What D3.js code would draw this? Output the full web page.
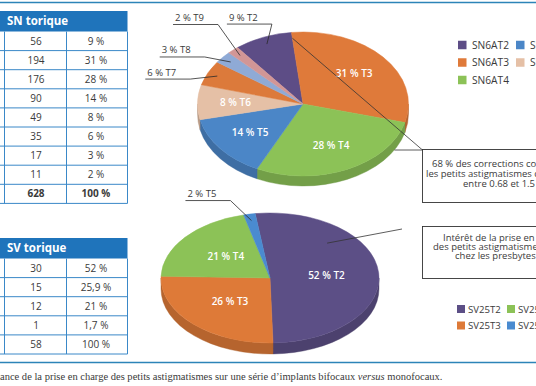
<!DOCTYPE html>
<html><head><meta charset="utf-8">
<script src="https://cdn.jsdelivr.net/npm/d3@7/dist/d3.min.js"></script>
<style>body{margin:0;background:#fff}svg{display:block}</style>
</head><body><svg id="c" width="536" height="386"></svg>
<script>
// ---------- DATA ----------
const snCategories = ["T2","T3","T4","T5","T6","T7","T8","T9"];
const snCounts = [56,194,176,90,49,35,17,11];
const snPercent = ["9 %","31 %","28 %","14 %","8 %","6 %","3 %","2 %"];
const snTotal = 628;
const svCategories = ["T2","T3","T4","T5"];
const svCounts = [30,15,12,1];
const svPercent = ["52 %","25,9 %","21 %","1,7 %"];
const svTotal = 58;
const totalPercent = "100 %";
const snLegendPrefix = "SN6A";
const svLegendPrefix = "SV25";
const callout1 = ["68 % des corrections concernent","les petits astigmatismes compris","entre 0.68 et 1.5 D"];
const callout2 = ["Intérêt de la prise en charge","des petits astigmatismes","chez les presbytes"];
const caption = ["Importance de la prise en charge des petits astigmatismes sur une série d’implants bifocaux ", "versus", " monofocaux."];

// ---------- STYLE ----------
const W = 536, H = 386;
const SANS = "'Open Sans', 'Noto Sans', sans-serif";
const SERIF = "'Liberation Serif', 'DejaVu Serif', serif";
const TEXT = "#3a3a3a";
const snColors = ["#5d4d86","#df7a3a","#8cc257","#4b86c7","#e5c0a6","#dc7a3b","#8faad6","#d29696"];
const svColors = ["#5c4f86","#de7a38","#8cc257","#4a8bd0"];

const svg = d3.select("#c");

// frame lines
svg.append("line").attr("x1",0).attr("x2",W).attr("y1",2.5).attr("y2",2.5)
  .attr("stroke","#2c84b8").attr("stroke-width",1.6);
svg.append("line").attr("x1",0).attr("x2",W).attr("y1",362.5).attr("y2",362.5)
  .attr("stroke","#2c84b8").attr("stroke-width",1.6);

// ---------- TABLES ----------
function drawTable(y0, title, counts, pcts, total, boldTotal){
  const g = svg.append("g");
  const headH = 20.5, rowH = 19.1;
  const rows = counts.map((c,i)=>({v:String(c), p:pcts[i], b:false}))
    .concat([{v:String(total), p:totalPercent, b:boldTotal}]);
  const y = d3.scaleBand().domain(d3.range(rows.length))
    .range([y0+headH, y0+headH+rowH*rows.length]);
  const x = d3.scaleOrdinal().domain(["left","c1","c2"]).range([4,66,127]);
  const line = "#3a88c8";
  g.append("rect").attr("x",0).attr("y",y0).attr("width",127.5).attr("height",headH).attr("fill","#1f74bb");
  g.append("text").attr("x",7).attr("y",y0+headH/2+4).attr("fill","#fff")
    .attr("font-family",SANS).attr("font-weight",700).attr("font-size",11.5).text(title);
  const yEnd = y0+headH+rowH*rows.length;
  rows.forEach((r,i)=>{
    g.append("line").attr("x1",0).attr("x2",127.5).attr("y1",y(i)+y.bandwidth()).attr("y2",y(i)+y.bandwidth())
      .attr("stroke",line).attr("stroke-width",1);
    const cy = y(i)+y.bandwidth()/2+3.5;
    g.append("text").attr("x",36).attr("y",cy).attr("text-anchor","middle").attr("fill",TEXT)
      .attr("font-family",SANS).attr("font-size",10).attr("font-weight",r.b?700:400).text(r.v);
    g.append("text").attr("x",96).attr("y",cy).attr("text-anchor","middle").attr("fill",TEXT)
      .attr("font-family",SANS).attr("font-size",10).attr("font-weight",r.b?700:400).text(r.p);
  });
  x.domain().forEach(k=>{
    const xx = x(k);
    g.append("line").attr("x1",xx+0.5).attr("x2",xx+0.5).attr("y1",y0+headH).attr("y2",yEnd)
      .attr("stroke",line).attr("stroke-width",1);
  });
}
drawTable(11, "SN torique", snCounts, snPercent, snTotal, true);
drawTable(238, "SV torique", svCounts, svPercent, svTotal, false);

// ---------- 3D PIES ----------
function pie3d(cfg){
  const {cats, counts, total, colors, cx, cy, rx, ry, depth, startDeg, labelK, outside} = cfg;
  const g = svg.append("g");
  const color = d3.scaleOrdinal().domain(cats).range(colors);
  const a0 = startDeg*Math.PI/180;
  const pie = d3.pie().sort(null).value(d=>d.v).startAngle(a0).endAngle(a0+2*Math.PI);
  const arcs = pie(cats.map((c,i)=>({c, v:counts[i]})));
  const P = (a,k=1)=>[cx+rx*k*Math.sin(a), cy-ry*k*Math.cos(a)];
  arcs.forEach(a=>{
    const s0 = Math.max(a.startAngle, Math.PI/2), s1 = Math.min(a.endAngle, 3*Math.PI/2);
    if (s1 <= s0) return;
    const p0 = P(s0), p1 = P(s1), lg = (s1-s0)>Math.PI?1:0;
    g.append("path").attr("d",
      `M${p0[0]},${p0[1]}A${rx},${ry} 0 ${lg} 1 ${p1[0]},${p1[1]}L${p1[0]},${p1[1]+depth}A${rx},${ry} 0 ${lg} 0 ${p0[0]},${p0[1]+depth}Z`)
      .attr("fill", d3.color(color(a.data.c)).darker(0.55))
      .attr("stroke", d3.color(color(a.data.c)).darker(0.7)).attr("stroke-width",0.4);
  });
  arcs.forEach(a=>{
    const p0 = P(a.startAngle), p1 = P(a.endAngle), lg = (a.endAngle-a.startAngle)>Math.PI?1:0;
    g.append("path").attr("d", `M${cx},${cy}L${p0[0]},${p0[1]}A${rx},${ry} 0 ${lg} 1 ${p1[0]},${p1[1]}Z`)
      .attr("fill", color(a.data.c)).attr("stroke", color(a.data.c)).attr("stroke-width",0.5);
  });
  arcs.forEach(a=>{
    const pct = Math.round(a.data.v/total*100) + " % " + a.data.c;
    const mid = (a.startAngle+a.endAngle)/2;
    if (outside[a.data.c]){
      const o = outside[a.data.c];
      const an = P(mid, 0.9);
      const el = [an[0]+o[0], an[1]+o[1]];
      const len = 45;
      g.append("path").attr("d",`M${an[0]},${an[1]}L${el[0]},${el[1]}L${el[0]-len},${el[1]}`)
        .attr("fill","none").attr("stroke","#2a2a2a").attr("stroke-width",0.8);
      g.append("text").attr("x",el[0]-len+2).attr("y",el[1]-3.5).attr("fill",TEXT)
        .attr("font-family",SANS).attr("font-size",9.5).text(pct);
    } else {
      const p = P(mid, labelK);
      g.append("text").attr("x",p[0]).attr("y",p[1]+3.5).attr("text-anchor","middle").attr("fill","#fff")
        .attr("font-family",SANS).attr("font-size",10).attr("font-weight",600).text(pct);
    }
  });
  return {arcs, P, color};
}

const topPie = pie3d({cats:snCategories, counts:snCounts, total:snTotal, colors:snColors,
  cx:303, cy:104, rx:105.5, ry:72, depth:10, startDeg:-38.4, labelK:0.64,
  outside:{T2:[5,-20], T9:[-22,-31], T8:[-26,-5], T7:[-27,3]}});
const botPie = pie3d({cats:svCategories, counts:svCounts, total:svTotal, colors:svColors,
  cx:270, cy:278, rx:109, ry:65, depth:11, startDeg:-7.8, labelK:0.52,
  outside:{T5:[-21,-20]}});

// ---------- CALLOUTS ----------
function box(y0, h, lines, xs, ys){
  svg.append("rect").attr("x",422.5).attr("y",y0+0.5).attr("width",200).attr("height",h)
    .attr("fill","#fff").attr("stroke","#333").attr("stroke-width",0.9);
  lines.forEach((t,i)=>svg.append("text").attr("x",xs[i]).attr("y",ys[i]).attr("fill",TEXT)
    .attr("font-family",SANS).attr("font-size",9.5).text(t));
}
{
  const a3 = topPie.arcs[1];
  const s = topPie.P(a3.startAngle, 0.92);
  const e = topPie.P(2*Math.PI/3, 1); e[1] += 10;
  svg.append("path").attr("d",`M${s[0]},${s[1]}L422.5,150L${e[0]},${e[1]}`)
    .attr("fill","none").attr("stroke","#333").attr("stroke-width",0.8);
}
box(149, 53, callout1, [432,426,463], [167,177,187]);
{
  const a2 = botPie.arcs[0];
  const s = botPie.P(a2.startAngle + 0.28*(a2.endAngle-a2.startAngle), 0.75);
  svg.append("line").attr("x1",s[0]).attr("y1",s[1]).attr("x2",402).attr("y2",229)
    .attr("stroke","#333").attr("stroke-width",0.8);
}
box(226, 52, callout2, [443,433,455], [240.5,249.5,258.5]);

// ---------- LEGENDS ----------
function legend(cats, colors, prefix, pos, sq, tdx, fs){
  cats.forEach((c,i)=>{
    const [x,y] = pos(i);
    svg.append("rect").attr("x",x).attr("y",y-sq/2).attr("width",sq).attr("height",sq).attr("fill",colors[i]);
    svg.append("text").attr("x",x+tdx).attr("y",y+3.6).attr("fill",TEXT)
      .attr("font-family",SANS).attr("font-size",fs).text(prefix+c);
  });
}
legend(snCategories, snColors, snLegendPrefix,
  i=>{const col = i<3?0:(i<5?1:2), row = i<3?i:(i<5?i-3:i-5); return [458+col*58, 45+row*17.5];}, 8.5, 14, 10.2);
legend(svCategories, svColors, svLegendPrefix,
  i=>[457+Math.floor(i/2)*50, 309+(i%2)*16.5], 8, 11, 9.6);

// ---------- CAPTION ----------
{
  const t = svg.append("text").attr("y",380).attr("fill",TEXT).attr("font-family",SERIF).attr("font-size",10);
  t.append("tspan").text(caption[0]);
  t.append("tspan").attr("font-style","italic").text(caption[1]);
  t.append("tspan").text(caption[2]);
  const probe = svg.append("text").attr("font-family",SERIF).attr("font-size",10).text("Import");
  const pw = probe.node().getComputedTextLength(); probe.remove();
  const fullW = t.node().getComputedTextLength();
  const fs = 10*443/(fullW-pw);
  t.attr("font-size",fs);
  t.attr("x",-pw*fs/10);
}
</script></body></html>
